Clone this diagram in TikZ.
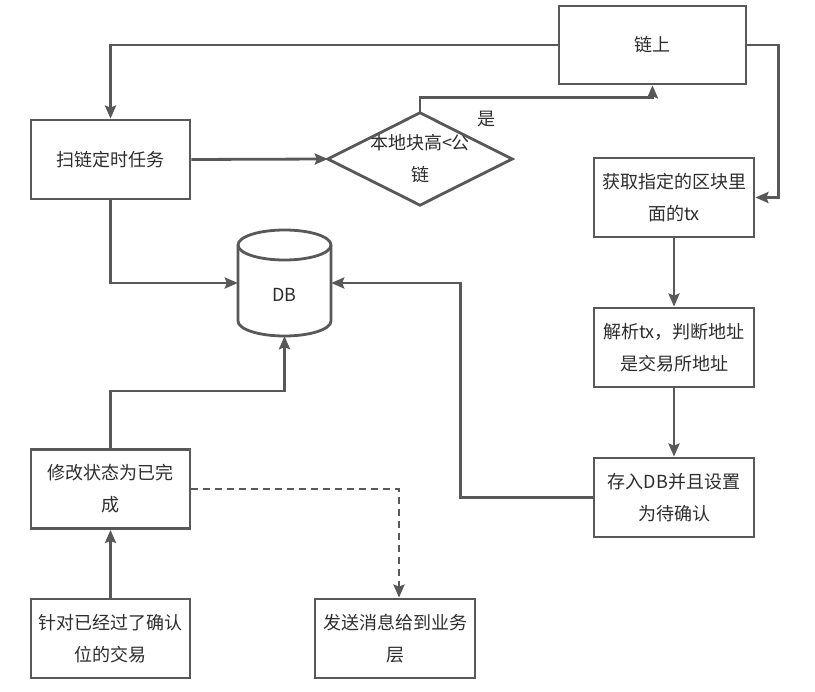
\documentclass[tikz,border=0pt]{standalone}
\usepackage{fontspec}
\setmainfont{Noto Sans CJK SC}
\usetikzlibrary{arrows.meta}
\definecolor{lc}{RGB}{88,88,88}
\definecolor{tc}{RGB}{45,45,45}
\begin{document}
\begin{tikzpicture}[x=1pt,y=-1pt,
  txt/.style={font=\fontsize{18}{32}\selectfont, text=tc, align=center, inner sep=0pt},
  box/.style={txt, draw=lc, line width=2.8pt, minimum width=159pt, minimum height=79pt},
  conn/.style={draw=lc, line width=2.8pt, -{Stealth[length=13pt,width=11pt,inset=2pt]}},
]
\useasboundingbox[fill=white] (0,0) rectangle (815,692);

\node[box] (scan) at (110.5,159.5) {扫链定时任务};
\node[box, minimum width=187pt, minimum height=78pt] (chain) at (652.5,45) {链上};
\node[txt, minimum width=184pt, minimum height=92pt] (dia) at (420,159) {本地块高<公\\链};
\draw[lc, line width=2.8pt, line join=miter] (dia.west) -- (dia.north) -- (dia.east) -- (dia.south) -- cycle;
\node[box, minimum width=160pt] (fetch) at (674,197.5) {获取指定的区块里\\面的tx};
\node[box, minimum width=160pt] (parse) at (674,347.5) {解析tx，判断地址\\是交易所地址};
\node[box, minimum width=160pt] (store) at (674,497.5) {存入DB并且设置\\为待确认};
\node[box] (mod) at (110.5,489) {修改状态为已完\\成};
\node[box] (conf) at (110.5,638.5) {针对已经过了确认\\位的交易};
\node[box, minimum width=160pt] (send) at (395,638.5) {发送消息给到业务\\层};

% DB cylinder
\node[minimum width=93pt, minimum height=106pt, inner sep=0pt] (db) at (284.5,283) {};
\path[draw=lc, line width=2.8pt, fill=white] (238,245) -- (238,321)
  arc[start angle=180, end angle=360, x radius=46.5pt, y radius=15pt] -- (331,245)
  arc[start angle=0, end angle=180, x radius=46.5pt, y radius=15pt] -- cycle;
\draw[lc, line width=2.8pt] (238,245) arc[start angle=180, end angle=360, x radius=46.5pt, y radius=15pt];
\node[txt] (dbl) at (284.5,295) {DB};

\node[txt] (yes) at (486,119) {是};

\draw[conn] (chain.west) -| (scan.north);
\draw[conn] (scan.east) -- (dia.west);
\draw[conn] (dia.north) -- ++(0,-15) -| (chain.south);
\draw[conn] (chain.east) -- ++(31,0) |- (fetch.east);
\draw[conn] (fetch.south) -- (parse.north);
\draw[conn] (parse.south) -- (store.north);
\draw[conn] (store.west) -- ++(-132,0) |- (db.east);
\draw[conn] (scan.south) |- (db.west);
\draw[conn] (mod.north) -- ++(0,-57) -| (db.south);
\draw[conn] (conf.north) -- (mod.south);
\draw[conn, dash pattern=on 7pt off 5pt] (mod.east) -| ([xshift=4pt]send.north);
\end{tikzpicture}
\end{document}
